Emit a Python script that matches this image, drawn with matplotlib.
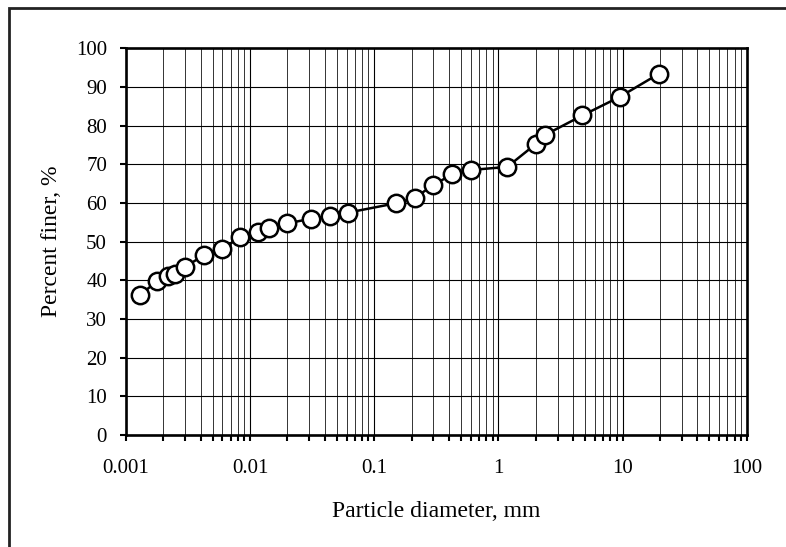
import matplotlib
matplotlib.use("Agg")
import matplotlib.pyplot as plt
from matplotlib.patches import Rectangle
from matplotlib.ticker import LogLocator, FixedLocator, NullFormatter

# =========================
# DATA
# =========================

diameter_mm = [0.0013, 0.0018, 0.0022, 0.0025, 0.0030, 0.0043, 0.0060,
               0.0083, 0.0116, 0.0142, 0.0200, 0.0310, 0.0440, 0.0620,
               0.150, 0.212, 0.300, 0.425, 0.600, 1.18, 2.00, 2.36,
               4.75, 9.50, 19.7]
percent_finer = [36.2, 39.8, 41.1, 41.6, 43.5, 46.5, 48.1,
                 51.1, 52.4, 53.6, 54.7, 55.9, 56.6, 57.5,
                 59.9, 61.3, 64.6, 67.4, 68.5, 69.3, 75.2, 77.5,
                 82.6, 87.4, 93.4]

x_ticks = [0.001, 0.01, 0.1, 1, 10, 100]
x_tick_labels = ["0.001", "0.01", "0.1", "1", "10", "100"]
y_ticks = [0, 10, 20, 30, 40, 50, 60, 70, 80, 90, 100]

# =========================
# PLOT
# =========================

plt.rcParams["font.family"] = ["Liberation Serif", "DejaVu Serif"]

fig = plt.figure(figsize=(7.86, 5.47), dpi=100)
ax = fig.add_axes([0.160, 0.2048, 0.790, 0.7072])

ax.plot(diameter_mm, percent_finer, color="black", lw=1.8,
        marker="o", markersize=12.5, markerfacecolor="white",
        markeredgecolor="black", markeredgewidth=1.8, zorder=3)

ax.set_xscale("log")
ax.set_xlim(0.001, 100)
ax.set_ylim(0, 100)

ax.xaxis.set_major_locator(FixedLocator(x_ticks))
ax.set_xticklabels(x_tick_labels)
ax.xaxis.set_minor_locator(LogLocator(base=10, subs=range(2, 10), numticks=20))
ax.xaxis.set_minor_formatter(NullFormatter())
ax.set_yticks(y_ticks)

ax.grid(which="major", axis="both", color="black", lw=0.8)
ax.grid(which="minor", axis="x", color="#333333", lw=0.7)
ax.set_axisbelow(True)

ax.tick_params(axis="x", which="both", direction="out", length=4.5,
               width=1.5, pad=13, labelsize=15)
ax.tick_params(axis="y", which="major", direction="out", length=4.5,
               width=1.5, pad=9, labelsize=15)

for s in ax.spines.values():
    s.set_linewidth(1.9)

ax.set_xlabel("Particle diameter, mm", fontsize=17, labelpad=16)
ax.set_ylabel("Percent finer, %", fontsize=17, labelpad=10)

# outer chart frame (runs off the right and bottom edge)
fig.add_artist(Rectangle((9 / 786, -0.2), 1.2, 1.2 - 8 / 547,
                         transform=fig.transFigure, fill=False,
                         edgecolor="#222222", lw=2.0))

fig.savefig("out.png", dpi=100)
